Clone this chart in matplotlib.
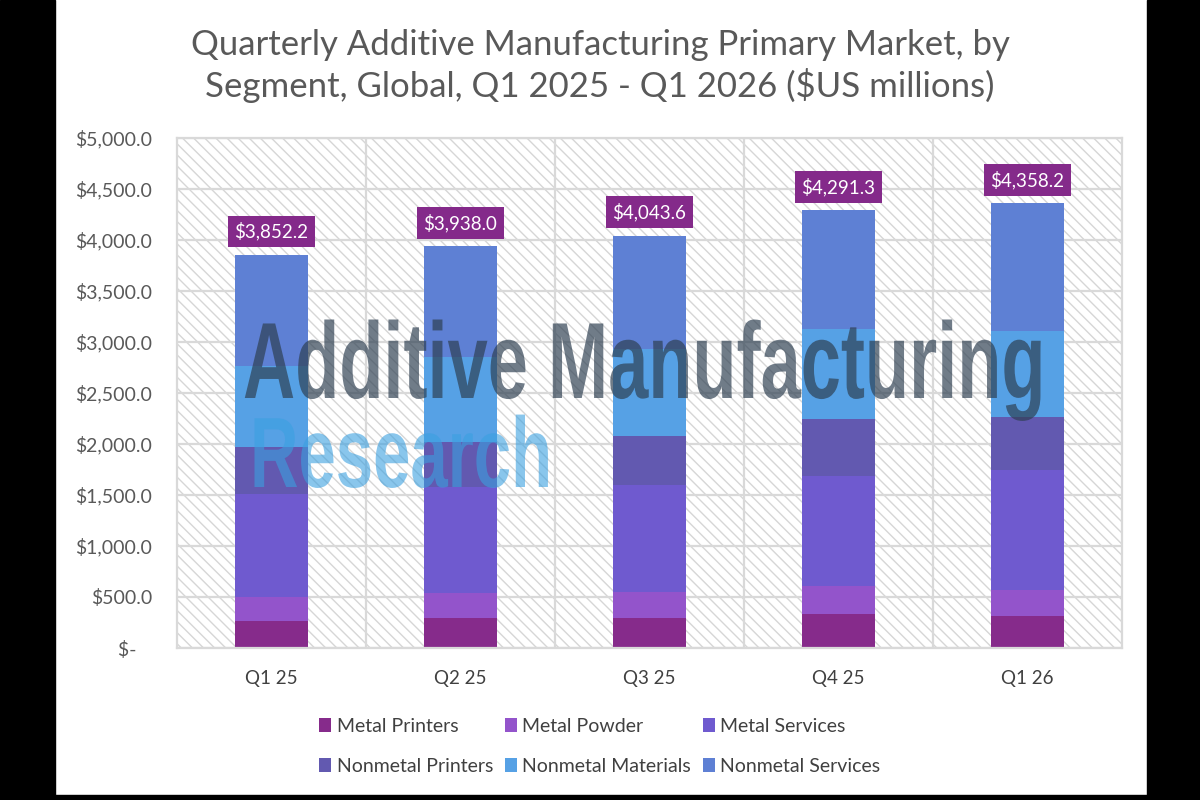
import matplotlib
matplotlib.use("Agg")
import matplotlib.pyplot as plt
from matplotlib.patches import Rectangle
from matplotlib.patheffects import AbstractPathEffect
from matplotlib.transforms import Affine2D
import numpy as np

quarters = ["Q1 25", "Q2 25", "Q3 25", "Q4 25", "Q1 26"]
metal_printers = [260, 293, 293, 338, 318]
metal_powder = [237, 246, 257, 270, 246]
metal_services = [1013, 1035, 1045, 1081, 1183]
nonmetal_printers = [456, 444, 485, 554, 513]
nonmetal_materials = [794, 838, 853, 889, 845]
nonmetal_services = [1092.2, 1082.0, 1110.6, 1159.3, 1253.2]
totals = [3852.2, 3938.0, 4043.6, 4291.3, 4358.2]

series = [
    ("Metal Printers", metal_printers, "#862b8b"),
    ("Metal Powder", metal_powder, "#9354cb"),
    ("Metal Services", metal_services, "#6f5acf"),
    ("Nonmetal Printers", nonmetal_printers, "#6259b0"),
    ("Nonmetal Materials", nonmetal_materials, "#56a1e5"),
    ("Nonmetal Services", nonmetal_services, "#5e80d4"),
]


class Stretch(AbstractPathEffect):
    """stretch the text upwards from its baseline (tall condensed look)"""
    def __init__(self, sy, y0):
        super().__init__()
        self.sy = sy
        self.y0 = y0

    def draw_path(self, renderer, gc, tpath, affine, rgbFace=None):
        tall = Affine2D().translate(0, -self.y0).scale(1, self.sy).translate(0, self.y0)
        renderer.draw_path(gc, tpath, affine + tall, rgbFace)


plt.rcParams["font.family"] = ["Lato", "DejaVu Sans"]
plt.rcParams["hatch.color"] = "#d6d6d6"
plt.rcParams["hatch.linewidth"] = 1.0

fig = plt.figure(figsize=(12, 8), dpi=100, facecolor="white")

# black frame around the screenshot
fig.patches.append(Rectangle((0, 0), 55 / 1200, 1, transform=fig.transFigure, color="black", zorder=-5))
fig.patches.append(Rectangle((1147 / 1200, 0), 1, 1, transform=fig.transFigure, color="black", zorder=-5))
fig.patches.append(Rectangle((0, 0), 1, 5 / 800, transform=fig.transFigure, color="black", zorder=-5))

ax = fig.add_axes([177 / 1200, 1 - 648 / 800, 945 / 1200, 510 / 800])
ax.set_facecolor("white")
ax.add_patch(Rectangle((0, 0), 1, 1, transform=ax.transAxes, facecolor="white",
                       edgecolor="#d6d6d6", hatch="\\\\\\", lw=0, zorder=0.1))

x = np.arange(len(quarters))
bottom = np.zeros(len(quarters))
handles = []
for name, vals, col in series:
    b = ax.bar(x, vals, 0.39, bottom=bottom, color=col, label=name, zorder=2)
    handles.append(b)
    bottom += np.array(vals)

for xi, t in zip(x, totals):
    ax.annotate(f"${t:,.1f}", (xi, t), xytext=(0, 17), textcoords="offset points",
                ha="center", va="center", color="white", fontsize=13.5,
                bbox=dict(boxstyle="square,pad=0.35", fc="#842a8a", ec="none"), zorder=5)

ax.set_xlim(-0.5, 4.5)
ax.set_ylim(0, 5000)
ax.set_yticks(np.arange(0, 5001, 500))
ax.set_yticklabels(["$-   "] + [f"${v:,.1f}" for v in np.arange(500, 5001, 500)])
ax.set_xticks(x)
ax.set_xticklabels(quarters)
ax.set_xticks([0.5, 1.5, 2.5, 3.5], minor=True)
ax.tick_params(axis="both", which="both", length=0)
ax.tick_params(axis="y", pad=18, labelsize=14, labelcolor="#595959")
ax.tick_params(axis="x", pad=16, labelsize=13.5, labelcolor="#404040")
ax.set_axisbelow(True)
ax.grid(axis="y", color="#d9d9d9", lw=1.6)
ax.grid(axis="x", which="minor", color="#d9d9d9", lw=1.6)
for s in ax.spines.values():
    s.set_color("#d9d9d9")
    s.set_linewidth(1.6)

fig.text(0.5, 1 - 66 / 800,
         "Quarterly Additive Manufacturing Primary Market, by\nSegment, Global, Q1 2025 - Q1 2026 ($US millions)",
         ha="center", va="center", fontsize=25, color="#595959", linespacing=1.22)

# watermark
wm1 = fig.text(243 / 1200, 1 - 398 / 800, "Additive Manufacturing", ha="left", va="baseline",
               family=["Liberation Sans", "DejaVu Sans"], fontweight="bold", fontsize=52,
               color="#2d3e50", alpha=0.68, zorder=10)
wm1.set_path_effects([Stretch(1.5, 800 - 398)])
wm2 = fig.text(250 / 1200, 1 - 487 / 800, "Research", ha="left", va="baseline",
               family=["Liberation Sans", "DejaVu Sans"], fontweight="bold", fontsize=48.3,
               color="#3aa0e0", alpha=0.6, zorder=10)
wm2.set_path_effects([Stretch(1.49, 800 - 487)])

order = [0, 3, 1, 4, 2, 5]
fig.legend([handles[i] for i in order], [series[i][0] for i in order], ncol=3,
           loc="upper center", bbox_to_anchor=(0.5, 1 - 700 / 800), frameon=False,
           fontsize=14, labelcolor="#404040", handlelength=0.6, handleheight=0.7,
           handletextpad=0.3, columnspacing=0.6, labelspacing=1.2)

fig.savefig("out.png", dpi=100, facecolor="white")
